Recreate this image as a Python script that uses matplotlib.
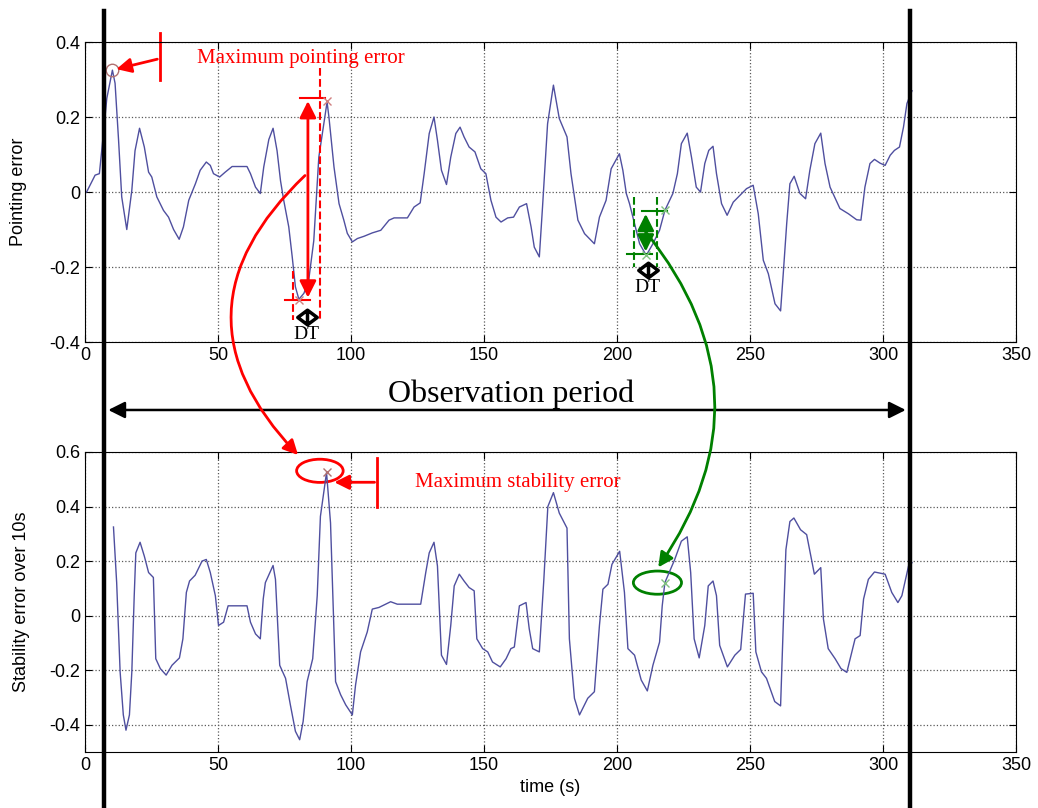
import matplotlib.pyplot as plt
from matplotlib.patches import Ellipse, ConnectionPatch
from matplotlib.lines import Line2D
from matplotlib.path import Path
from matplotlib.transforms import blended_transform_factory

# Pointing error curve
t_point = [0.6, 3.8, 5.4, 6.7, 8.2, 10.3, 11.3, 12.6, 13.8, 15.7, 17.6, 18.8, 20.5, 22.3, 23.9,
           25.1, 27.0, 29.5, 31.4, 33.3, 35.4, 37.0, 39.0, 41.5, 43.3, 45.6, 47.1, 48.3, 50.6,
           52.7, 55.3, 60.9, 62.2, 64.1, 65.9, 67.2, 69.1, 70.7, 72.2, 73.5, 74.7, 76.6, 77.9,
           79.1, 80.4, 82.3, 84.1, 86.0, 87.9, 91.0, 91.7, 93.6, 95.5, 97.3, 98.6, 100.5,
           102.4, 104.9, 108.0, 111.2, 114.3, 116.2, 121.2, 123.7, 126.0, 127.5, 129.4, 131.2,
           132.5, 134.0, 135.9, 137.5, 139.4, 141.0, 142.5, 144.4, 146.6, 148.8, 150.7, 152.6,
           154.5, 156.4, 158.9, 161.1, 163.3, 166.0, 167.7, 168.9, 170.8, 172.0, 173.9, 176.1,
           178.3, 181.2, 182.7, 185.3, 187.8, 191.5, 193.4, 195.9, 197.8, 200.9, 202.2, 203.5,
           204.7, 206.6, 208.5, 211.0, 213.5, 216.0, 218.0, 221.0, 222.7, 224.2, 226.4, 228.0,
           229.8, 231.4, 233.0, 234.5, 236.1, 237.4, 239.3, 241.4, 243.7, 246.2, 248.7, 251.2,
           253.1, 255.0, 256.9, 259.4, 261.5, 262.5, 263.8, 265.0, 266.6, 268.8, 270.9, 272.5,
           274.4, 276.6, 278.2, 280.1, 283.8, 287.0, 290.1, 291.7, 293.2, 295.1, 296.8, 298.9,
           300.8, 302.7, 304.3, 306.2, 307.7, 309.0, 310.9]
pointing = [0.0, 0.045, 0.049, 0.14, 0.25, 0.325, 0.29, 0.14, -0.013, -0.10, 0.005, 0.11, 0.17,
            0.12, 0.053, 0.04, -0.013, -0.049, -0.067, -0.10, -0.126, -0.093, -0.022, 0.022,
            0.058, 0.08, 0.071, 0.049, 0.04, 0.053, 0.068, 0.068, 0.049, 0.013, -0.004, 0.067,
            0.14, 0.17, 0.11, 0.03, -0.022, -0.093, -0.173, -0.253, -0.286, -0.27, -0.235,
            -0.13, 0.093, 0.24, 0.2, 0.067, -0.031, -0.075, -0.11, -0.133, -0.124, -0.118,
            -0.109, -0.102, -0.075, -0.069, -0.069, -0.04, -0.029, 0.049, 0.156, 0.2, 0.138,
            0.058, 0.02, 0.093, 0.156, 0.173, 0.147, 0.12, 0.107, 0.062, 0.049, -0.022, -0.067,
            -0.08, -0.069, -0.067, -0.04, -0.031, -0.093, -0.147, -0.173, -0.04, 0.182, 0.285,
            0.196, 0.147, 0.049, -0.075, -0.111, -0.138, -0.067, -0.022, 0.062, 0.102, 0.058,
            -0.004, -0.031, -0.084, -0.138, -0.169, -0.138, -0.102, -0.049, -0.004, 0.049,
            0.129, 0.157, 0.093, 0.013, 0.0, 0.076, 0.111, 0.122, 0.049, -0.031, -0.062,
            -0.027, -0.009, 0.009, 0.018, -0.058, -0.182, -0.218, -0.298, -0.317, -0.218,
            -0.084, 0.022, 0.042, -0.004, -0.018, 0.058, 0.129, 0.157, 0.076, 0.013, -0.044,
            -0.058, -0.074, -0.075, 0.013, 0.076, 0.087, 0.077, 0.071, 0.098, 0.111, 0.12,
            0.173, 0.236, 0.27]

# Stability error over 10 s
t_stab = [10.7, 11.9, 13.2, 14.4, 15.4, 16.7, 17.6, 18.5, 19.1, 20.7, 22.3, 23.9, 25.7, 26.6,
          28.3, 30.5, 32.7, 35.5, 36.8, 38.1, 39.3, 41.4, 44.0, 45.6, 47.1, 49.0, 50.2, 52.1,
          53.8, 60.9, 62.2, 64.1, 65.9, 67.0, 67.8, 70.7, 71.6, 73.2, 75.4, 77.2, 79.1, 80.7,
          82.0, 83.5, 85.6, 87.3, 88.5, 90.8, 92.3, 94.2, 96.1, 98.0, 100.5, 101.7, 103.6,
          106.1, 108.0, 110.5, 114.9, 117.4, 126.2, 128.1, 129.4, 131.2, 132.5, 134.0, 135.9,
          137.5, 138.8, 140.7, 142.5, 144.4, 146.3, 147.3, 149.5, 151.4, 153.2, 156.1, 158.3,
          160.1, 161.4, 163.3, 165.8, 167.0, 168.3, 170.8, 172.5, 174.0, 176.1, 178.3, 181.2,
          182.1, 184.0, 185.9, 189.0, 191.5, 193.4, 194.7, 196.6, 198.1, 201.0, 202.8, 204.1,
          206.6, 209.1, 211.4, 213.5, 216.0, 217.0, 218.0, 221.7, 224.2, 226.4, 227.7, 229.0,
          230.9, 233.0, 234.3, 236.1, 237.4, 238.6, 241.5, 244.3, 246.5, 248.3, 251.2, 252.2,
          254.3, 256.2, 259.3, 261.5, 262.5, 263.5, 265.0, 266.5, 269.0, 271.3, 274.2, 276.6,
          277.6, 279.4, 282.0, 284.2, 286.4, 289.5, 291.4, 292.7, 294.5, 296.8, 300.8, 303.3,
          305.6, 307.1, 309.6, 310.9]
stability = [0.325, 0.121, -0.206, -0.364, -0.42, -0.364, -0.206, 0.073, 0.23, 0.269, 0.218,
             0.158, 0.14, -0.158, -0.194, -0.218, -0.182, -0.155, -0.085, 0.085, 0.127, 0.148,
             0.2, 0.206, 0.158, 0.073, -0.036, -0.024, 0.036, 0.036, -0.024, -0.067, -0.085,
             0.061, 0.121, 0.184, 0.133, -0.182, -0.23, -0.327, -0.424, -0.455, -0.388,
             -0.242, -0.158, 0.073, 0.364, 0.525, 0.34, -0.242, -0.29, -0.327, -0.364, -0.255,
             -0.133, -0.06, 0.024, 0.03, 0.051, 0.042, 0.042, 0.158, 0.23, 0.269, 0.182,
             -0.145, -0.179, -0.036, 0.109, 0.152, 0.127, 0.103, 0.091, -0.085, -0.121, -0.133,
             -0.17, -0.188, -0.158, -0.121, -0.115, 0.036, 0.048, -0.048, -0.121, -0.133,
             0.133, 0.4, 0.451, 0.376, 0.321, -0.085, -0.303, -0.364, -0.303, -0.279, -0.036,
             0.097, 0.115, 0.188, 0.236, 0.085, -0.121, -0.145, -0.236, -0.276, -0.182, -0.097,
             0.036, 0.121, 0.206, 0.273, 0.289, 0.158, -0.085, -0.155, -0.036, 0.109, 0.127,
             0.073, -0.109, -0.188, -0.145, -0.124, 0.079, 0.082, -0.133, -0.206, -0.23,
             -0.315, -0.331, -0.036, 0.242, 0.345, 0.358, 0.315, 0.297, 0.152, 0.176, -0.012,
             -0.121, -0.158, -0.194, -0.208, -0.085, -0.073, 0.061, 0.133, 0.16, 0.152, 0.085,
             0.048, 0.073, 0.182, 0.194]

obs_start, obs_end = 7.1, 310.2
line_col = '#4f4f9f'
sans = ['Liberation Sans', 'DejaVu Sans']
serif = ['Liberation Serif', 'DejaVu Serif']
plt.rcParams['font.family'] = sans

# DT symbol: two open arrow heads back to back
dt_marker = Path([(-1, 0), (0, 0.75), (1, 0), (0, -0.75), (-1, 0), (0, 0.75), (0, -0.75)],
                 [Path.MOVETO, Path.LINETO, Path.LINETO, Path.LINETO, Path.CLOSEPOLY,
                  Path.MOVETO, Path.LINETO])

fig = plt.figure(figsize=(10.38, 8.08), dpi=100)
ax1 = fig.add_axes([0.0819, 0.5767, 0.8969, 0.3713])
ax2 = fig.add_axes([0.0819, 0.0693, 0.8969, 0.3713])

for ax in (ax1, ax2):
    ax.set_xlim(0, 350)
    ax.set_xticks([0, 50, 100, 150, 200, 250, 300, 350])
    ax.grid(True, linestyle=':', color='0.35', linewidth=0.9)
    ax.tick_params(direction='in', labelsize=13, length=5, top=True, right=True)
    for s in ax.spines.values():
        s.set_linewidth(0.8)

ax1.plot(t_point, pointing, color=line_col, lw=1.0)
ax1.set_ylim(-0.4, 0.4)
ax1.set_yticks([-0.4, -0.2, 0, 0.2, 0.4])
ax1.set_yticklabels(['-0.4', '-0.2', '0', '0.2', '0.4'])
ax1.set_ylabel('Pointing error', fontsize=13, labelpad=16)

ax2.plot(t_stab, stability, color=line_col, lw=1.0)
ax2.set_ylim(-0.5, 0.6)
ax2.set_yticks([-0.4, -0.2, 0, 0.2, 0.4, 0.6])
ax2.set_yticklabels(['-0.4', '-0.2', '0', '0.2', '0.4', '0.6'])
ax2.set_ylabel('Stability error over 10s', fontsize=13, labelpad=14)
ax2.set_xlabel('time (s)', fontsize=13, labelpad=4)

# --- top panel annotations ---
ax1.plot([10.3], [0.325], 'o', mfc='none', mec='#b07070', ms=9, clip_on=False)
ax1.plot([28.2, 28.2], [0.298, 0.423], color='red', lw=2, clip_on=False)
ax1.annotate('', xy=(10.8, 0.326), xytext=(28.2, 0.356),
             arrowprops=dict(arrowstyle='-|>', color='red', lw=2, mutation_scale=22),
             annotation_clip=False)
ax1.text(42.1, 0.356, 'Maximum pointing error', color='red', fontsize=15,
         family=serif, va='center', ha='left')

# red window
ax1.plot([78.2, 78.2], [-0.21, -0.34], color='red', ls='--', lw=1.5)
ax1.plot([88.3, 88.3], [0.33, -0.34], color='red', ls='--', lw=1.5)
ax1.plot([80.8, 90.2], [0.25, 0.25], color='red', lw=1.5)
ax1.plot([75.2, 84.6], [-0.289, -0.289], color='red', lw=1.5)
ax1.annotate('', xy=(83.8, 0.25), xytext=(83.8, -0.289),
             arrowprops=dict(arrowstyle='<|-|>', color='red', lw=2, mutation_scale=25))
ax1.plot([80.4, 91.0], [-0.287, 0.242], 'x', color='#d08080', ms=6)
ax1.plot([83.4], [-0.333], marker=dt_marker, ms=14, mfc='white', mec='black', mew=2.5,
         clip_on=False)
ax1.text(83.4, -0.357, 'DT', fontsize=14, family=serif, ha='center', va='top',
         clip_on=False)

# green window
ax1.plot([206.4, 206.4], [-0.013, -0.2], color='green', ls='--', lw=1.5)
ax1.plot([215.2, 215.2], [-0.013, -0.2], color='green', ls='--', lw=1.5)
ax1.plot([209.3, 218.7], [-0.051, -0.051], color='green', lw=1.5)
ax1.plot([203.6, 213.0], [-0.166, -0.166], color='green', lw=1.5)
ax1.annotate('', xy=(210.8, -0.051), xytext=(210.8, -0.166),
             arrowprops=dict(arrowstyle='<|-|>', color='green', lw=2, mutation_scale=25))
ax1.plot([211.0, 218.0], [-0.169, -0.049], 'x', color='#80c080', ms=6)
ax1.plot([211.6], [-0.209], marker=dt_marker, ms=14, mfc='white', mec='black', mew=2.5)
ax1.text(211.6, -0.233, 'DT', fontsize=14, family=serif, ha='center', va='top')

# --- bottom panel annotations ---
ax2.add_patch(Ellipse((88.3, 0.531), 17.5, 0.085, fill=False, ec='red', lw=2, clip_on=False))
ax2.plot([90.8], [0.525], 'x', color='#b07070', ms=6)
ax2.plot([109.9, 109.9], [0.4, 0.577], color='red', lw=2)
ax2.annotate('', xy=(92.7, 0.489), xytext=(109.9, 0.489),
             arrowprops=dict(arrowstyle='-|>', color='red', lw=2, mutation_scale=22))
ax2.text(124.0, 0.489, 'Maximum stability error', color='red', fontsize=15,
         family=serif, va='center', ha='left')
ax2.add_patch(Ellipse((215.2, 0.121), 18.1, 0.085, fill=False, ec='green', lw=2))
ax2.plot([218.0], [0.121], 'x', color='#80c080', ms=6)

# curved arrows between panels
con_r = ConnectionPatch(xyA=(82.7, 0.044), coordsA=ax1.transData,
                        xyB=(80.1, 0.589), coordsB=ax2.transData,
                        arrowstyle='-|>', connectionstyle='arc3,rad=0.5',
                        color='red', lw=2, mutation_scale=22)
fig.add_artist(con_r)
con_g = ConnectionPatch(xyA=(211.0, -0.108), coordsA=ax1.transData,
                        xyB=(215.5, 0.177), coordsB=ax2.transData,
                        arrowstyle='-|>', connectionstyle='arc3,rad=-0.37',
                        color='green', lw=2, mutation_scale=22)
fig.add_artist(con_g)

# observation period markers
trans = blended_transform_factory(ax1.transData, fig.transFigure)
for xv in (obs_start, obs_end):
    fig.add_artist(Line2D([xv, xv], [0.0, 0.986], transform=trans, color='black', lw=3.2))
ax1.annotate('', xy=(obs_start + 0.6, 0.4926), xytext=(obs_end - 0.6, 0.4926),
             xycoords=trans, textcoords=trans,
             arrowprops=dict(arrowstyle='<|-|>', color='black', lw=1.8, mutation_scale=25),
             annotation_clip=False)
ax1.text(160.0, 0.5025, 'Observation period', transform=trans, fontsize=23,
         family=serif, ha='center', va='baseline')

fig.savefig('out.png', dpi=100)
